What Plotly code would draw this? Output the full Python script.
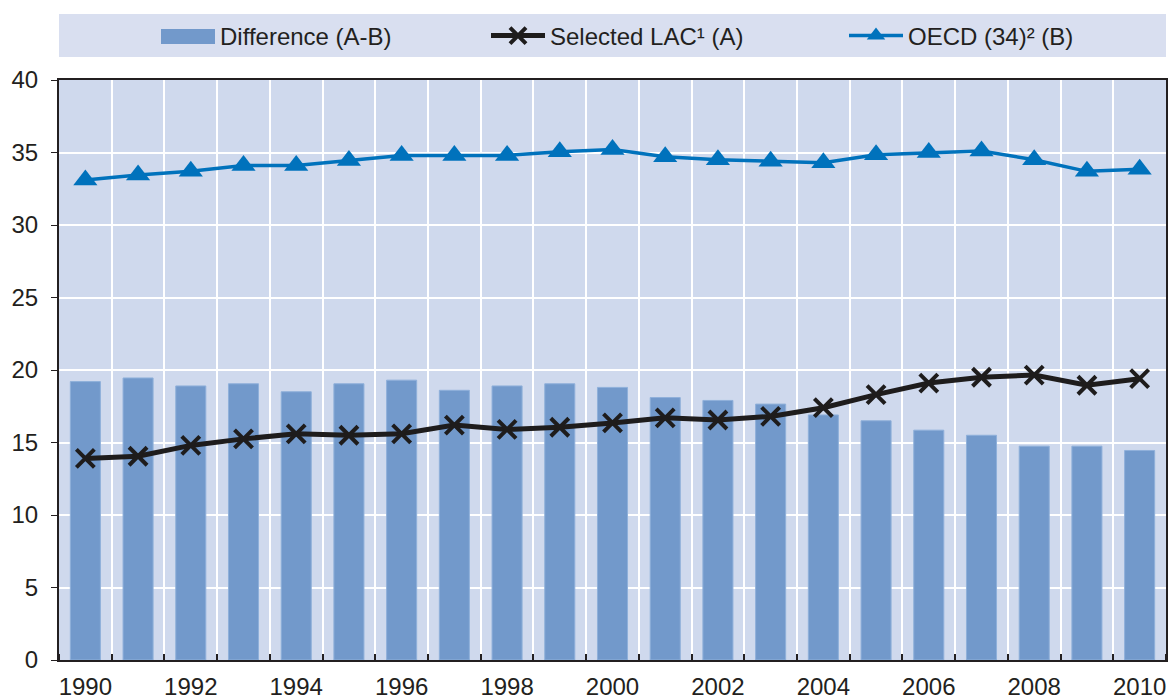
import plotly.graph_objects as go

YEARS = list(range(1990, 2011))
# Selected LAC (A)
LAC = [13.9, 14.05, 14.8, 15.25, 15.6, 15.5, 15.6, 16.2, 15.9, 16.05,
       16.35, 16.7, 16.55, 16.8, 17.4, 18.3, 19.1, 19.5, 19.65, 18.95, 19.4]
# OECD (34) (B)
OECD = [33.1, 33.45, 33.7, 34.1, 34.1, 34.45, 34.8, 34.8, 34.8, 35.05,
        35.2, 34.7, 34.5, 34.4, 34.3, 34.85, 35.0, 35.1, 34.5, 33.7, 33.85]
# Difference (A-B), as drawn
DIFF = [19.2, 19.45, 18.9, 19.05, 18.5, 19.05, 19.3, 18.6, 18.9, 19.05,
        18.8, 18.1, 17.9, 17.65, 16.9, 16.5, 15.85, 15.5, 14.75, 14.75, 14.45]

FONT = "Arial, Liberation Sans, sans-serif"
TEXT = "#231f20"
BAR_BLUE = "#7299cb"
LINE_BLUE = "#0072bc"
PLOT_BG = "#cfd9ed"
BAND_BG = "#d9dff0"
FS = 24

W, H = 1168, 699
ML, MR, MT, MB = 59, 2, 80, 39
PW = W - ML - MR
PH = H - MT - MB


def px_x(px):
    return (px - ML) / PW


def px_y(py):
    return 1 + (MT - py) / PH


fig = go.Figure()

fig.add_trace(go.Bar(
    x=YEARS, y=DIFF, width=0.57, name="Difference (A-B)",
    marker=dict(color=BAR_BLUE, line=dict(color="#8fb0da", width=1)),
    showlegend=False,
))
fig.add_trace(go.Scatter(
    x=YEARS, y=LAC, mode="lines+markers", name="Selected LAC¹ (A)",
    line=dict(color="#1e1c1c", width=5),
    marker=dict(symbol="x-thin", size=18, line=dict(color="#1e1c1c", width=4)),
    legend="legend", showlegend=True,
))
fig.add_trace(go.Scatter(
    x=YEARS, y=OECD, mode="lines+markers", name="OECD (34)² (B)",
    line=dict(color=LINE_BLUE, width=3.5),
    marker=dict(symbol="triangle-up", size=21, color=LINE_BLUE),
    legend="legend2", showlegend=True,
))

# light band behind the legend
fig.add_shape(type="rect", xref="paper", yref="paper",
              x0=0, x1=1.0, y0=px_y(57), y1=px_y(14),
              line_width=0, fillcolor=BAND_BG)
# bar swatch + label (plotly's bar swatch is a small square)
fig.add_shape(type="rect", xref="paper", yref="paper",
              x0=px_x(161), x1=px_x(215), y0=px_y(44), y1=px_y(29),
              line_width=0, fillcolor=BAR_BLUE)
fig.add_annotation(xref="paper", yref="paper", x=px_x(218), y=px_y(36.5),
                   xanchor="left", yanchor="middle", showarrow=False,
                   text="Difference (A-B)", font=dict(family=FONT, size=FS, color=TEXT))

leg_common = dict(orientation="h", bgcolor="rgba(0,0,0,0)", yanchor="middle",
                  y=px_y(36), xanchor="left",
                  font=dict(family=FONT, size=FS, color=TEXT),
                  itemwidth=54)

fig.update_layout(
    width=W, height=H,
    margin=dict(l=ML, r=MR, t=MT, b=MB),
    paper_bgcolor="white",
    plot_bgcolor=PLOT_BG,
    font=dict(family=FONT, size=FS, color=TEXT),
    barmode="overlay",
    legend=dict(x=px_x(486), **leg_common),
    legend2=dict(x=px_x(844), **leg_common),
    xaxis=dict(
        range=[1989.5, 2010.5], tickvals=YEARS[::2], showgrid=False,
        ticks="", showline=True, linecolor=TEXT, linewidth=2, mirror=True,
        zeroline=False, tickfont=dict(size=FS), ticklabelstandoff=4,
        automargin=False,
        minor=dict(tick0=0.5, dtick=1, showgrid=True, gridcolor="white",
                   gridwidth=2, ticks="inside", ticklen=6, tickcolor=TEXT,
                   tickwidth=1.5),
    ),
    yaxis=dict(
        range=[0, 40], dtick=5, showgrid=True, gridcolor="white", gridwidth=2,
        ticks="outside", ticklen=6, tickcolor=TEXT, showline=True,
        linecolor=TEXT, linewidth=2, mirror=True, zeroline=False,
        tickfont=dict(size=FS), ticklabelstandoff=8, automargin=False,
    ),
)

fig.write_html(
    "out.html",
    config={"displayModeBar": False},
    post_script="document.body.style.margin='0';document.body.style.overflow='hidden';",
)
